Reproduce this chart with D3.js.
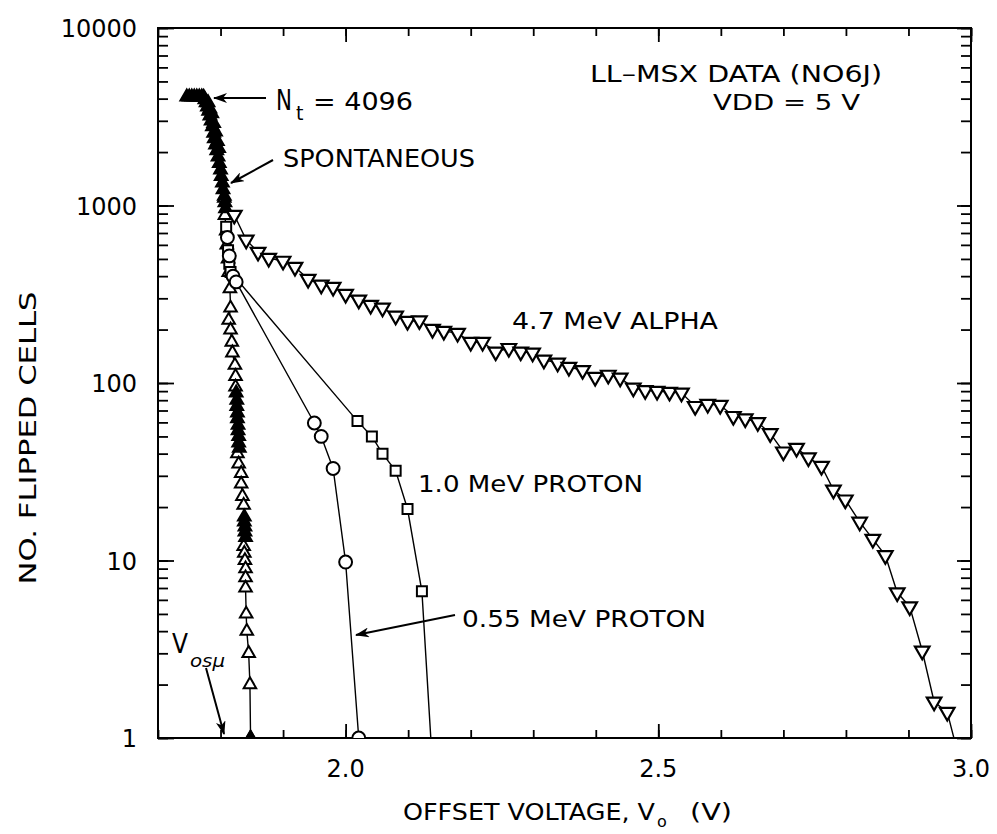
<!DOCTYPE html>
<html><head><meta charset="utf-8">
<script src="https://cdnjs.cloudflare.com/ajax/libs/d3/7.8.5/d3.min.js"></script>
<style>
body{margin:0;background:#fff;}
svg{display:block;}
text{font-family:"DejaVu Sans",sans-serif;fill:#000;}
</style>
</head><body>
<svg id="c" width="997" height="834"></svg>
<script>
// ---------------- DATA ----------------
const yTickValues = [1, 10, 100, 1000, 10000];
const yTickLabels = ["1", "10", "100", "1000", "10000"];
const xTickValues = [2.0, 2.5, 3.0];
const xTickLabels = ["2.0", "2.5", "3.0"];

// Spontaneous flips (dense filled symbols), [V, N]
const spontFilled = [
  [1.746,4096],[1.750,4096],[1.754,4096],[1.758,4096],[1.762,4096],[1.766,4096],[1.770,4096],
  [1.773,4080],[1.775,3950],[1.777,3800],[1.779,3600],[1.781,3400],[1.783,3200],[1.785,3000],
  [1.787,2780],[1.789,2560],[1.790,2380],[1.792,2200],[1.794,2040],[1.796,1880],[1.798,1730],
  [1.800,1590],[1.801,1460],[1.803,1340],[1.804,1230],[1.806,1130],[1.807,1040],[1.808,960],
  [1.780,3800],[1.783,3500],[1.786,3300],[1.789,2900],[1.792,2600],[1.795,2300],[1.797,2100],
  [1.825,88],[1.826,80],[1.826,74],[1.827,68],[1.827,63],[1.828,58],[1.828,54],[1.829,50],[1.829,46],[1.830,43],
  [1.838,17.6],[1.838,16.5],[1.839,15.5],[1.839,14.5],[1.840,13.5],
  [1.848,1]
];
// Spontaneous flips (open up-triangles), [V, N]
const spontOpen = [
  [1.806,1100],[1.807,880],[1.809,720],[1.810,600],[1.812,500],[1.813,420],[1.815,340],
  [1.816,265],[1.813,226],[1.816,199],[1.818,170],[1.819,148],[1.823,126],[1.824,109],[1.824,95],
  [1.827,40],[1.829,35],[1.833,31],[1.833,27],[1.835,23],[1.837,20.5],
  [1.837,12],[1.838,11],[1.839,10],[1.840,9],[1.840,8],[1.840,7],[1.841,5],[1.842,4],[1.845,3],[1.847,2],
  [1.848,1]
];
// 4.7 MeV alpha, [V, N]
const alpha = [
  [1.822,884],[1.841,640],[1.860,547],[1.877,506],[1.900,487],[1.919,450],[1.940,385],[1.961,357],
  [1.980,347],[2.000,317],[2.021,294],[2.040,275],[2.059,265],[2.080,239],[2.099,223],[2.118,225],
  [2.139,201],[2.157,196],[2.179,191],[2.200,170],[2.219,170],[2.240,150],[2.261,157],[2.280,150],
  [2.299,148],[2.317,135],[2.339,130],[2.357,123],[2.379,118],[2.399,108],[2.420,111],[2.439,107],
  [2.460,94],[2.479,91],[2.498,90],[2.518,89],[2.537,88],[2.559,74],[2.579,76],[2.599,75],
  [2.620,65],[2.639,63],[2.659,60],[2.679,52],[2.700,41],[2.721,43],[2.740,38],[2.761,34],
  [2.780,25],[2.799,22],[2.822,16.5],[2.843,13.2],[2.863,10.7],[2.882,6.6],[2.902,5.5],
  [2.922,3.1],[2.941,1.6],[2.962,1.4],[2.976,0.9]
];
// 1.0 MeV proton, [V, N]
const proton10 = [
  [1.809,760],[1.812,560],[1.814,470],[1.816,422],
  [2.019,61],[2.042,50],[2.059,40],[2.080,32],[2.099,19.5],[2.122,6.7],[2.137,0.9]
];
// 0.55 MeV proton, [V, N]
const proton055 = [
  [1.811,660],[1.814,520],[1.820,400],[1.825,371],
  [1.950,59.5],[1.961,50],[1.980,33],[2.000,9.8],[2.021,1]
];

// ---------------- CHART ----------------
const svg = d3.select("#c");
const L = 158, R = 971, T = 28, B = 738;
const x = d3.scaleLinear().domain([1.7, 3.0]).range([L, R]);
const y = d3.scaleLog().domain([1, 10000]).range([B, T]);

svg.append("defs").append("clipPath").attr("id", "clip")
  .append("rect").attr("x", L).attr("y", T).attr("width", R - L).attr("height", B - T);

const axStroke = 2;
function styleAxis(g) {
  g.select(".domain").remove();
  g.selectAll(".tick line").attr("stroke", "#000").attr("stroke-width", 1.8);
  g.selectAll(".tick text").remove();
}
const xMinor = x.ticks(13);
const yMinor = y.ticks();
svg.append("g").attr("transform", `translate(0,${B})`)
  .call(d3.axisBottom(x).tickValues(xMinor).tickSize(-8)).call(styleAxis);
svg.append("g").attr("transform", `translate(0,${B})`)
  .call(d3.axisBottom(x).tickValues(xTickValues).tickSize(-14)).call(styleAxis);
svg.append("g").attr("transform", `translate(0,${T})`)
  .call(d3.axisTop(x).tickValues(xMinor).tickSize(-8)).call(styleAxis);
svg.append("g").attr("transform", `translate(0,${T})`)
  .call(d3.axisTop(x).tickValues(xTickValues).tickSize(-14)).call(styleAxis);
svg.append("g").attr("transform", `translate(${L},0)`)
  .call(d3.axisLeft(y).tickValues(yMinor).tickSize(-10)).call(styleAxis);
svg.append("g").attr("transform", `translate(${L},0)`)
  .call(d3.axisLeft(y).tickValues(yTickValues).tickSize(-16)).call(styleAxis);
svg.append("g").attr("transform", `translate(${R},0)`)
  .call(d3.axisRight(y).tickValues(yMinor).tickSize(-10)).call(styleAxis);
svg.append("g").attr("transform", `translate(${R},0)`)
  .call(d3.axisRight(y).tickValues(yTickValues).tickSize(-14)).call(styleAxis);

svg.append("rect").attr("x", L).attr("y", T).attr("width", R - L).attr("height", B - T)
  .attr("fill", "none").attr("stroke", "#000").attr("stroke-width", axStroke);

svg.append("g").selectAll("text").data(yTickValues).join("text")
  .attr("x", 137).attr("y", d => y(d) + 9).attr("text-anchor", "end")
  .attr("font-size", 24).text((d, i) => yTickLabels[i]);
svg.append("g").selectAll("text").data(xTickValues).join("text")
  .attr("x", d => x(d)).attr("y", 777).attr("text-anchor", "middle")
  .attr("font-size", 24).text((d, i) => xTickLabels[i]);

const plot = svg.append("g").attr("clip-path", "url(#clip)");
const line = d3.line().x(d => x(d[0])).y(d => y(d[1]));
function drawLine(data) {
  plot.append("path").datum(data).attr("d", line)
    .attr("fill", "none").attr("stroke", "#000").attr("stroke-width", 1.4);
}
drawLine(spontOpen);
drawLine(proton10);
drawLine(proton055);
drawLine(alpha);

function drawMarkers(data, type, size, rot, fill, sw) {
  const sym = d3.symbol().type(type).size(size);
  plot.append("g").selectAll("path").data(data).join("path")
    .attr("d", sym)
    .attr("transform", d => `translate(${x(d[0])},${y(d[1])}) rotate(${rot})`)
    .attr("fill", fill).attr("stroke", "#000").attr("stroke-width", sw);
}
drawMarkers(spontOpen, d3.symbolTriangle, 68, 0, "#fff", 2);
drawMarkers(spontFilled, d3.symbolTriangle, 70, 0, "#000", 2);
drawMarkers(proton10, d3.symbolSquare, 100, 0, "#fff", 2);
drawMarkers(proton055, d3.symbolCircle, 130, 0, "#fff", 2);
drawMarkers(alpha, d3.symbolTriangle, 92, 180, "#fff", 2.2);

const defs = svg.select("defs");
defs.append("marker").attr("id", "ah").attr("viewBox", "0 0 14 10")
  .attr("refX", 13).attr("refY", 5).attr("markerWidth", 14).attr("markerHeight", 10)
  .attr("markerUnits", "userSpaceOnUse").attr("orient", "auto")
  .append("path").attr("d", "M0,0 L14,5 L0,10 L4,5 Z").attr("fill", "#000");
function arrow(x1, y1, x2, y2) {
  svg.append("line").attr("x1", x1).attr("y1", y1).attr("x2", x2).attr("y2", y2)
    .attr("stroke", "#000").attr("stroke-width", 2).attr("marker-end", "url(#ah)");
}
arrow(266, 98, 214, 98);
arrow(273, 160, 231, 183);
arrow(455, 615, 356, 635);
arrow(206, 668, 224, 734);

function label(txt, xx, yy, size, len) {
  const t = svg.append("text").attr("x", xx).attr("y", yy).attr("font-size", size).text(txt);
  if (len) t.attr("textLength", len).attr("lengthAdjust", "spacingAndGlyphs");
  return t;
}
label("N", 276, 110, 29, 16);
label("t", 296, 120, 19);
label("= 4096", 313, 110, 25, 100);
label("SPONTANEOUS", 283, 167, 25, 192);
label("LL\u2013MSX DATA (NO6J)", 590, 82, 23, 292);
label("VDD = 5 V", 713, 110, 22, 147);
label("4.7 MeV ALPHA", 512, 329, 23, 206);
label("1.0 MeV PROTON", 418, 492, 23, 225);
label("0.55 MeV PROTON", 462, 627, 23, 244);
label("V", 172, 653, 26, 16);
label("os\u03bc", 190, 667, 17, 35).attr("font-style", "italic");
label("OFFSET VOLTAGE, V", 403, 820, 23, 252);
label("o", 657, 827, 16);
label("(V)", 690, 820, 23, 42);
svg.append("text").attr("transform", "translate(36,438) rotate(-90)")
  .attr("text-anchor", "middle").attr("font-size", 23)
  .attr("textLength", 293).attr("lengthAdjust", "spacingAndGlyphs")
  .text("NO. FLIPPED CELLS");
</script>
</body></html>
